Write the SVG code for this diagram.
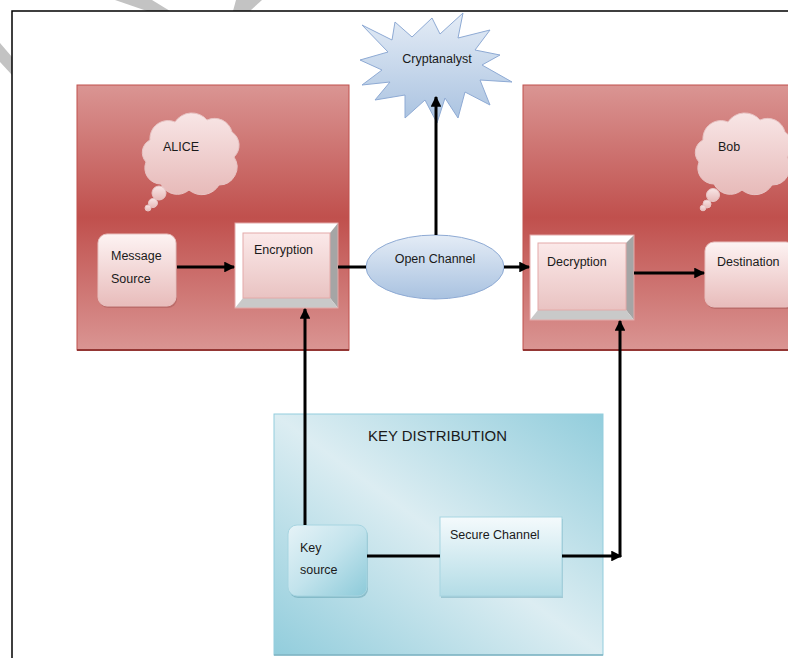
<svg xmlns="http://www.w3.org/2000/svg" width="788" height="658" viewBox="0 0 788 658">
<defs>
<linearGradient id="gRed" x1="0" y1="0" x2="0" y2="1">
<stop offset="0" stop-color="#da9593"/><stop offset="0.5" stop-color="#c0504d"/><stop offset="1" stop-color="#da9593"/>
</linearGradient>
<linearGradient id="gPink" x1="0" y1="0" x2="0" y2="1">
<stop offset="0" stop-color="#fdf3f3"/><stop offset="1" stop-color="#e8bcbb"/>
</linearGradient>
<linearGradient id="gFace" x1="0" y1="0" x2="0" y2="1">
<stop offset="0" stop-color="#fbe9e9"/><stop offset="1" stop-color="#e9c3c2"/>
</linearGradient>
<linearGradient id="gCloud" x1="0" y1="0" x2="0" y2="1">
<stop offset="0" stop-color="#f8e6e6"/><stop offset="1" stop-color="#e7bab9"/>
</linearGradient>
<linearGradient id="gBlue" x1="0" y1="0" x2="0" y2="1">
<stop offset="0" stop-color="#e4ecf6"/><stop offset="1" stop-color="#a9c2e0"/>
</linearGradient>
<linearGradient id="gKey" x1="1" y1="0" x2="0" y2="1">
<stop offset="0" stop-color="#92cddc"/><stop offset="0.5" stop-color="#dcedf2"/><stop offset="1" stop-color="#92cddc"/>
</linearGradient>
<linearGradient id="gKeySrc" x1="0" y1="0" x2="1" y2="1">
<stop offset="0" stop-color="#e6f3f7"/><stop offset="0.5" stop-color="#c2e3ec"/><stop offset="1" stop-color="#8ccad9"/>
</linearGradient>
<linearGradient id="gSecure" x1="0" y1="0" x2="0" y2="1">
<stop offset="0" stop-color="#f4fafc"/><stop offset="1" stop-color="#b3dce6"/>
</linearGradient>
<marker id="ah" viewBox="0 0 10 10" refX="9" refY="5" markerWidth="3.6" markerHeight="3.6" orient="auto" markerUnits="strokeWidth">
<path d="M0,0 L10,5 L0,10 z" fill="#000"/>
</marker>
</defs>
<style>
text{font-family:"Liberation Sans","Open Sans",Arial,sans-serif;font-size:12.5px;fill:#1a1a1a}
.big{font-size:15px}
.conn{stroke:#000;stroke-width:3;fill:none}
.redbox{fill:url(#gRed);stroke:#c0504d;stroke-width:1}
.cloud{fill:url(#gCloud);stroke:#e8c4c4;stroke-width:1}
</style>
<rect width="788" height="658" fill="#fff"/>
<g id="watermark" fill="#c3c3c3">
<polygon points="115,0 152,0 170,11 147,11"/>
<polygon points="236,0 262,0 250,11 233,11"/>
<polygon points="0,43 12,57 12,75 0,62"/>
</g>
<g id="frame" stroke="#000" stroke-width="1.5" fill="none">
<path d="M12,658 L12,11 L788,11"/>
</g>

<g id="alice-box">
<rect x="77" y="85" width="272" height="265" class="redbox"/>
<line x1="77" y1="350" x2="349" y2="350" stroke="#943634" stroke-width="2"/>
</g>
<g id="bob-box">
<rect x="523" y="85" width="270" height="265" class="redbox"/>
<line x1="523" y1="350" x2="788" y2="350" stroke="#943634" stroke-width="2"/>
</g>

<g id="alice-cloud">
<path class="cloud" d="M150,140 a18,18 0 0 1 25,-18 a20,20 0 0 1 32,-2 a18,18 0 0 1 25,12 a16,16 0 0 1 2,25 a18,18 0 0 1 -15,28 a20,20 0 0 1 -30,5 a18,18 0 0 1 -28,-6 a16,16 0 0 1 -15,-22 a14,14 0 0 1 4,-22 z"/>
<circle class="cloud" cx="159" cy="193" r="7"/>
<circle class="cloud" cx="153" cy="203" r="4.5"/>
<circle class="cloud" cx="148" cy="208" r="3"/>
<text x="163" y="151">ALICE</text>
</g>
<g id="bob-cloud">
<path class="cloud" d="M703,140 a18,18 0 0 1 25,-18 a20,20 0 0 1 32,-2 a18,18 0 0 1 25,12 a16,16 0 0 1 2,25 a18,18 0 0 1 -15,28 a20,20 0 0 1 -30,5 a18,18 0 0 1 -28,-6 a16,16 0 0 1 -15,-22 a14,14 0 0 1 4,-22 z"/>
<circle class="cloud" cx="713" cy="195" r="6.5"/>
<circle class="cloud" cx="707" cy="204" r="4"/>
<circle class="cloud" cx="703" cy="208" r="2.8"/>
<text x="718" y="151">Bob</text>
</g>

<g id="message-source">
<rect x="99" y="236" width="78" height="72" rx="9" fill="#a65a58" opacity="0.5"/>
<rect x="98" y="234" width="78" height="72" rx="9" fill="url(#gPink)" stroke="#e8c0bf"/>
<text x="111" y="260">Message</text>
<text x="111" y="283">Source</text>
</g>

<g id="encryption">
<rect x="235" y="223" width="103" height="85" fill="#fff"/>
<polygon points="338,223 338,308 330,298 330,233" fill="#a5a5a5"/>
<polygon points="235,308 338,308 330,298 243,298" fill="#c9c9c9"/>
<rect x="243" y="233" width="87" height="65" fill="url(#gFace)" stroke="#e4aaa9"/>
<rect x="235" y="223" width="103" height="85" fill="none" stroke="#e4aaa9"/>
<text x="254" y="254">Encryption</text>
</g>

<g id="decryption">
<rect x="530" y="235" width="104" height="85" fill="#fff"/>
<polygon points="634,235 634,320 626,310 626,243" fill="#a5a5a5"/>
<polygon points="530,320 634,320 626,310 538,310" fill="#c9c9c9"/>
<rect x="538" y="243" width="88" height="67" fill="url(#gFace)" stroke="#e4aaa9"/>
<rect x="530" y="235" width="104" height="85" fill="none" stroke="#e4aaa9"/>
<text x="547" y="266">Decryption</text>
</g>

<g id="destination">
<rect x="706" y="244" width="90" height="65" rx="9" fill="#a65a58" opacity="0.5"/>
<rect x="705" y="242" width="90" height="65" rx="9" fill="url(#gPink)" stroke="#e8c0bf"/>
<text x="717" y="266">Destination</text>
</g>

<g id="open-channel">
<ellipse cx="435" cy="267" rx="69" ry="32" fill="url(#gBlue)" stroke="#8eaad4"/>
<text x="435" y="263" text-anchor="middle">Open Channel</text>
</g>

<g id="cryptanalyst">
<polygon points="362,25 392,40 395,22 412,37 432,18 440,34 463,13 458,38 490,30 475,50 500,55 482,65 512,82 480,80 490,105 465,92 458,118 445,98 437,123 425,100 405,118 405,95 375,100 390,82 362,85 382,70 360,60 388,52" fill="url(#gBlue)" stroke="#8eaad4" stroke-linejoin="round"/>
<text x="437" y="63" text-anchor="middle">Cryptanalyst</text>
</g>

<g id="key-distribution">
<rect x="274" y="414" width="329" height="241" fill="url(#gKey)" stroke="#93cddd"/>
<line x1="274" y1="655" x2="603" y2="655" stroke="#7fb3c2" stroke-width="1.5"/>
<text x="368" y="441" class="big" textLength="139" lengthAdjust="spacingAndGlyphs">KEY DISTRIBUTION</text>
</g>

<g id="key-source">
<rect x="289" y="527" width="79" height="71" rx="9" fill="#5e9eae" opacity="0.5"/>
<rect x="288" y="525" width="79" height="71" rx="9" fill="url(#gKeySrc)" stroke="#a7d5e1"/>
<text x="300" y="552">Key</text>
<text x="300" y="574">source</text>
</g>

<g id="secure-channel">
<rect x="441" y="519" width="122" height="79" fill="#7fb3c2" opacity="0.6"/>
<rect x="440" y="517" width="122" height="79" fill="url(#gSecure)" stroke="#a7d5e1"/>
<text x="450" y="539">Secure Channel</text>
</g>

<g id="connectors" class="conn">
<line x1="177" y1="267" x2="234" y2="267" marker-end="url(#ah)"/>
<line x1="338" y1="267" x2="366" y2="267"/>
<line x1="504" y1="267" x2="529" y2="267" marker-end="url(#ah)"/>
<line x1="634" y1="273" x2="704" y2="273" marker-end="url(#ah)"/>
<line x1="436" y1="235" x2="436" y2="97" marker-end="url(#ah)"/>
<line x1="305" y1="525" x2="305" y2="309" marker-end="url(#ah)"/>
<line x1="367" y1="556" x2="440" y2="556"/>
<line x1="562" y1="556" x2="621" y2="556" marker-end="url(#ah)"/>
<line x1="620" y1="557" x2="620" y2="321" marker-end="url(#ah)"/>
</g>
</svg>
